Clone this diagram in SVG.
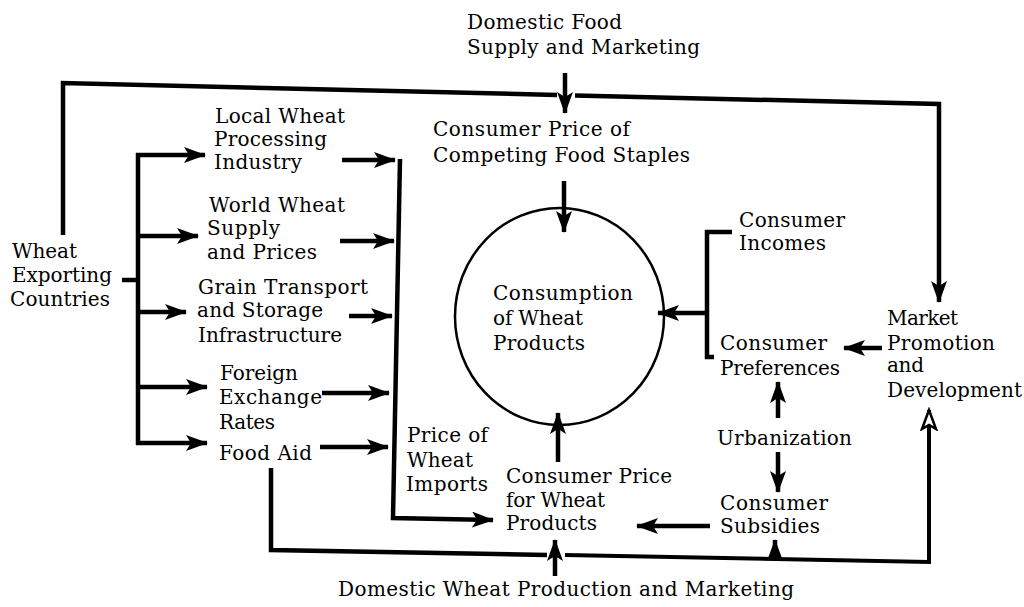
<svg xmlns="http://www.w3.org/2000/svg" width="1024" height="607" viewBox="0 0 1024 607">
<style>
text{font-family:"DejaVu Serif","Liberation Serif",serif;font-size:20px;fill:#000}
.ln{fill:none;stroke:#000;stroke-width:4.5;stroke-linejoin:miter;stroke-linecap:butt}
.ar{fill:none;stroke:#000;stroke-width:4.5;marker-end:url(#ah)}
.arh{fill:none;stroke:#000;stroke-width:4;marker-end:url(#ahh)}
</style>
<defs>
<marker id="ah" markerUnits="userSpaceOnUse" markerWidth="24" markerHeight="16" refX="21" refY="8" orient="auto">
<path d="M0,0 L22,8 L0,16 L5,8 z" fill="#000"/>
</marker>
<marker id="ahh" markerUnits="userSpaceOnUse" markerWidth="24" markerHeight="18" refX="21" refY="9" orient="auto">
<path d="M2,2 L21,9 L2,16 L6,9 z" fill="#fff" stroke="#000" stroke-width="2.5"/>
</marker>
</defs>
<rect width="1024" height="607" fill="#fff"/>

<g id="connectors">
<polyline class="ln" points="63,235 63,83 557,95"/>
<polyline class="ar" points="575,95.5 939,104 939,302"/>
<line class="ar" x1="565" y1="73" x2="565" y2="113"/>
<line class="ar" x1="564" y1="181" x2="564" y2="232"/>
<line class="ln" x1="122" y1="280" x2="138" y2="280"/>
<line class="ln" x1="138" y1="153" x2="138" y2="445"/>
<line class="ar" x1="136" y1="155" x2="205" y2="155"/>
<line class="ar" x1="138" y1="236" x2="198" y2="236"/>
<line class="ar" x1="138" y1="312" x2="186" y2="312"/>
<line class="ar" x1="138" y1="387" x2="207" y2="387"/>
<line class="ar" x1="136" y1="443" x2="207" y2="443"/>
<line class="ar" x1="342" y1="160" x2="395" y2="160"/>
<line class="ar" x1="340" y1="241" x2="394" y2="241"/>
<line class="ar" x1="349" y1="316" x2="392" y2="316"/>
<line class="ar" x1="322" y1="393" x2="389" y2="393"/>
<line class="ar" x1="320" y1="447" x2="388" y2="447"/>
<polyline class="ar" points="400,159 393,518 493,520"/>
<polyline class="ln" points="271,468 271,550 547,555"/>
<polyline class="arh" points="565,555 929,562 929,410"/>
<line class="ar" x1="555" y1="576" x2="555" y2="540"/>
<line class="ar" x1="775" y1="559" x2="775" y2="540"/>
<line class="ar" x1="558" y1="462" x2="558" y2="413"/>
<line class="ar" x1="710" y1="526" x2="637" y2="526"/>
<line class="ar" x1="778" y1="418" x2="778" y2="382"/>
<line class="ar" x1="778" y1="452" x2="778" y2="492"/>
<line class="ar" x1="882" y1="348" x2="844" y2="348"/>
<polyline class="ln" points="732,232 707,232 707,357 714,357"/>
<line class="ar" x1="707" y1="313" x2="658" y2="313"/>
</g>

<g id="n-domestic-food">
<text x="467" y="29" textLength="155" lengthAdjust="spacing">Domestic Food</text>
<text x="467" y="54" textLength="233" lengthAdjust="spacing">Supply and Marketing</text>
</g>
<g id="n-competing">
<text x="433" y="136" textLength="197" lengthAdjust="spacing">Consumer Price of</text>
<text x="433" y="162" textLength="257" lengthAdjust="spacing">Competing Food Staples</text>
</g>
<g id="n-consumption">
<ellipse cx="559.5" cy="316.5" rx="104.5" ry="108.5" fill="none" stroke="#000" stroke-width="2.5"/>
<text x="493" y="300" textLength="140" lengthAdjust="spacing">Consumption</text>
<text x="493" y="325" textLength="90" lengthAdjust="spacing">of Wheat</text>
<text x="493" y="350" textLength="92" lengthAdjust="spacing">Products</text>
</g>
<g id="n-exporting">
<text x="12" y="258" textLength="65" lengthAdjust="spacing">Wheat</text>
<text x="12" y="282" textLength="100" lengthAdjust="spacing">Exporting</text>
<text x="10" y="306" textLength="100" lengthAdjust="spacing">Countries</text>
</g>
<g id="n-local">
<text x="215" y="123" textLength="130" lengthAdjust="spacing">Local Wheat</text>
<text x="214" y="146" textLength="113" lengthAdjust="spacing">Processing</text>
<text x="214" y="169" textLength="88" lengthAdjust="spacing">Industry</text>
</g>
<g id="n-world">
<text x="209" y="212" textLength="136" lengthAdjust="spacing">World Wheat</text>
<text x="207" y="235" textLength="73" lengthAdjust="spacing">Supply</text>
<text x="207" y="259" textLength="110" lengthAdjust="spacing">and Prices</text>
</g>
<g id="n-grain">
<text x="198" y="294" textLength="170" lengthAdjust="spacing">Grain Transport</text>
<text x="197" y="317" textLength="126" lengthAdjust="spacing">and Storage</text>
<text x="198" y="342" textLength="144" lengthAdjust="spacing">Infrastructure</text>
</g>
<g id="n-foreign">
<text x="220" y="380" textLength="78" lengthAdjust="spacing">Foreign</text>
<text x="219" y="404" textLength="103" lengthAdjust="spacing">Exchange</text>
<text x="219" y="429" textLength="56" lengthAdjust="spacing">Rates</text>
</g>
<g id="n-foodaid">
<text x="219" y="460" textLength="93" lengthAdjust="spacing">Food Aid</text>
</g>
<g id="n-imports">
<text x="407" y="442" textLength="81" lengthAdjust="spacing">Price of</text>
<text x="407" y="467" textLength="66" lengthAdjust="spacing">Wheat</text>
<text x="406" y="491" textLength="82" lengthAdjust="spacing">Imports</text>
</g>
<g id="n-price-wheat">
<text x="506" y="483" textLength="166" lengthAdjust="spacing">Consumer Price</text>
<text x="506" y="507" textLength="99" lengthAdjust="spacing">for Wheat</text>
<text x="506" y="530" textLength="91" lengthAdjust="spacing">Products</text>
</g>
<g id="n-incomes">
<text x="739" y="227" textLength="106" lengthAdjust="spacing">Consumer</text>
<text x="739" y="250" textLength="87" lengthAdjust="spacing">Incomes</text>
</g>
<g id="n-preferences">
<text x="720" y="350" textLength="107" lengthAdjust="spacing">Consumer</text>
<text x="720" y="375" textLength="120" lengthAdjust="spacing">Preferences</text>
</g>
<g id="n-urbanization">
<text x="717" y="445" textLength="135" lengthAdjust="spacing">Urbanization</text>
</g>
<g id="n-subsidies">
<text x="720" y="510" textLength="108" lengthAdjust="spacing">Consumer</text>
<text x="720" y="533" textLength="100" lengthAdjust="spacing">Subsidies</text>
</g>
<g id="n-market">
<text x="887" y="325" textLength="71" lengthAdjust="spacing">Market</text>
<text x="887" y="350" textLength="108" lengthAdjust="spacing">Promotion</text>
<text x="887" y="372" textLength="37" lengthAdjust="spacing">and</text>
<text x="887" y="397" textLength="135" lengthAdjust="spacing">Development</text>
</g>
<g id="n-domestic-wheat">
<text x="338" y="596" textLength="456" lengthAdjust="spacing">Domestic Wheat Production and Marketing</text>
</g>
</svg>
